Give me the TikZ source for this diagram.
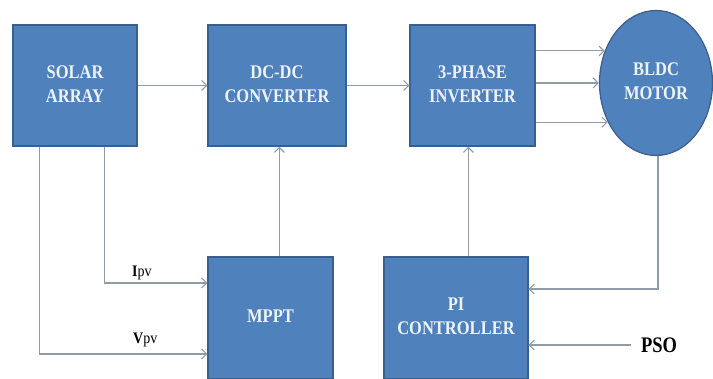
\documentclass[tikz,border=0pt]{standalone}
\usepackage{fontspec}
\setmainfont{Liberation Serif}
\usetikzlibrary{arrows.meta,calc,shapes.geometric}
\definecolor{boxfill}{HTML}{4F81BD}
\definecolor{boxline}{HTML}{3A5F8C}
\definecolor{boxtext}{HTML}{EEF3F8}
\definecolor{wire}{HTML}{8F9BA6}
\newcommand{\blocktext}[1]{\scalebox{1}[1.17]{\begin{tabular}{@{}c@{}}#1\end{tabular}}}
\tikzset{
  block/.style={draw=boxline, line width=1.2pt, fill=boxfill, text=boxtext,
    font=\fontsize{16.5}{20.5}\bfseries\selectfont, inner sep=0pt},
  wirearrow/.style={draw=wire, line width=1.1pt, -{Straight Barb[length=5pt,width=10pt]}},
  lbl/.style={font=\fontsize{14}{16}\selectfont, inner sep=0pt, text=black}
}
\begin{document}
\begin{tikzpicture}[x=1pt,y=-1pt]
\useasboundingbox (0,0) rectangle (713,378);
% blocks
\node[block, minimum width=124pt, minimum height=121pt] (solar) at (75,85.5) {\blocktext{SOLAR\\ARRAY}};
\node[block, minimum width=138pt, minimum height=121pt] (dcdc) at (277,85.5) {\blocktext{DC-DC\\CONVERTER}};
\node[block, minimum width=125pt, minimum height=121pt] (inv) at (472.5,85.5) {\blocktext{3-PHASE\\INVERTER}};
\node[block, ellipse, minimum width=113pt, minimum height=145pt] (motor) at (656,83) {\blocktext{BLDC\\MOTOR}};
\node[block, minimum width=125pt, minimum height=122pt] (mppt) at (270.5,318) {\blocktext{MPPT}};
\node[block, minimum width=144pt, minimum height=122pt] (pi) at (456,318) {\blocktext{PI\\CONTROLLER}};
% labels
\node[lbl, anchor=base west] (ipv) at (132,276) {\scalebox{1}[1.15]{\textbf{I}pv}};
\node[lbl, anchor=base west] (vpv) at (133,343) {\scalebox{1}[1.15]{\textbf{V}pv}};
\node[text=black, font=\fontsize{18.5}{20}\bfseries\selectfont, inner ysep=0pt, inner xsep=10pt] (pso) at (659,345) {\scalebox{1}[1.2]{PSO}};
% connectors
\draw[wirearrow] (solar) -- (dcdc);
\draw[wirearrow] (dcdc) -- (inv);
\draw[wirearrow] (inv.east |- motor.148.7) -- (motor.148.7);
\draw[wirearrow] (inv.east |- motor.west) -- (motor.west);
\draw[wirearrow] (inv.east |- motor.219.3) -- (motor.219.3);
\draw[wirearrow] ($(solar.south west)+(92,0)$) |- ($(mppt.west)+(0,-35)$);
\draw[wirearrow] ($(solar.south west)+(27,0)$) |- ($(mppt.west)+(0,36)$);
\draw[wirearrow] ($(mppt.north west)+(72,0)$) -- ($(dcdc.south west)+(72,0)$);
\draw[wirearrow] ($(pi.north west)+(85,0)$) -- ($(inv.south west)+(59,0)$);
\draw[wirearrow] ($(motor.south)+(2,0)$) |- ($(pi.east)+(0,-29)$);
\draw[wirearrow] (pso.west) -- (pi.east |- pso.west);
\end{tikzpicture}
\end{document}
